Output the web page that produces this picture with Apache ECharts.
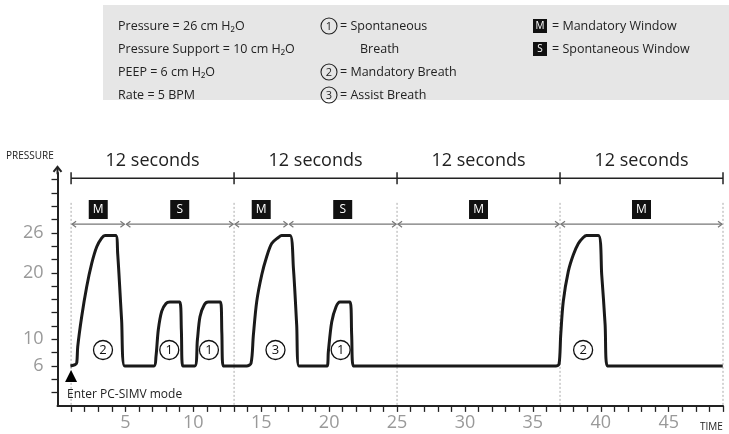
<!DOCTYPE html>
<html><head><meta charset="utf-8">
<script src="https://cdn.jsdelivr.net/npm/echarts@6/dist/echarts.min.js"></script>
<style>html,body{margin:0;padding:0;background:#fff}#c{width:729px;height:434px}</style>
</head><body><div id="c"></div>
<script>
// ---- data ----
const timeS = [0.95,1.3,1.42,1.49,1.78,2.15,2.52,2.89,3.25,3.5,4.28,4.43,4.72,4.95,
  7.1,7.25,7.42,7.67,7.99,8.28,9.0,9.12,9.22,
  10.1,10.3,10.49,10.81,11.1,12.0,12.1,12.2,
  13.93,14.25,14.42,14.67,15.04,15.4,15.77,16.26,16.5,17.12,17.37,17.61,17.78,
  19.85,19.94,20.19,20.51,20.8,21.54,21.66,21.78,
  36.7,36.93,37.05,37.24,37.61,37.98,38.35,38.71,38.95,39.82,40.07,40.32,40.48,
  48.98];
const pressure = [6,6.2,6.5,8.9,13.4,17.9,21.4,23.9,25.2,25.6,25.6,22.9,12.9,6,
  6,7.4,11.4,14.2,15.4,15.6,15.6,11.4,6,
  6,9.9,13.4,15.2,15.6,15.6,11,6,
  6,6.4,10.6,15.7,19.7,22.4,24.4,25.3,25.6,25.6,20.7,12.2,6,
  6,8.1,12.6,14.9,15.6,15.6,10.6,6,
  6,6.3,10.6,15.7,20.2,22.7,24.4,25.3,25.6,25.6,19.7,12.2,6,
  6];
const windowEdges = [1, 13, 25, 37, 49];
const windowText = '12 seconds';
const subWindowStart = [1, 5, 13, 17, 25, 37];
const subWindowEnd = [5, 13, 17, 25, 37, 49];
const subWindowType = ['M', 'S', 'M', 'S', 'M', 'M'];
const breathTime = [3.35, 8.23, 11.15, 16.05, 20.85, 38.7];
const breathType = ['2', '1', '1', '3', '1', '2'];
const yLabelValues = [6, 10, 20, 26];
const yTickValues = [2,4,6,8,10,12,14,16,18,20,22,24,26,28,30,32,34];
const xLabelValues = [5, 10, 15, 20, 25, 30, 35, 40, 45];
const xTickValues = Array.from({length: 49}, (_, i) => i + 1);
const legendSettings = ['Pressure = 26 cm H₂O', 'Pressure Support = 10 cm H₂O', 'PEEP = 6 cm H₂O', 'Rate = 5 BPM'];
const legendBreaths = [['1', '= Spontaneous', 'Breath'], ['2', '= Mandatory Breath'], ['3', '= Assist Breath']];
const legendWindows = [['M', '= Mandatory Window'], ['S', '= Spontaneous Window']];
const yName = 'PRESSURE';
const xName = 'TIME';
const startNote = 'Enter PC-SIMV mode';

// ---- chart ----
const FONT = '"Open Sans", "Noto Sans", sans-serif';
const chart = echarts.init(document.getElementById('c'), null, {renderer: 'canvas'});

function overlay(params, api) {
  const ch = [];
  const P = (t, v) => api.coord([t, v]);
  const yB = P(0, 34.2)[1];
  const xs = windowEdges.map(t => P(t, 0)[0]);
  ch.push({type: 'line', shape: {x1: xs[0], y1: yB, x2: xs[xs.length - 1], y2: yB}, style: {stroke: '#222', lineWidth: 1.5}});
  xs.forEach(x => ch.push({type: 'line', shape: {x1: x, y1: yB - 6, x2: x, y2: yB + 6}, style: {stroke: '#222', lineWidth: 1.5}}));
  for (let i = 0; i < xs.length - 1; i++) {
    ch.push({type: 'text', style: {text: windowText, x: (xs[i] + xs[i + 1]) / 2, y: yB - 17, align: 'center', verticalAlign: 'middle', fontSize: 18, fontFamily: FONT, fill: '#222'}});
  }
  const yTop = P(0, 30.5)[1], y0 = P(0, 0)[1];
  xs.forEach(x => ch.push({type: 'line', shape: {x1: x, y1: yTop, x2: x, y2: y0}, style: {stroke: '#aaa', lineWidth: 1, lineDash: [2, 2]}}));
  const yA = P(0, 27.3)[1];
  const yM = P(0, 29.5)[1];
  for (let i = 0; i < subWindowStart.length; i++) {
    const a = P(subWindowStart[i], 0)[0], b = P(subWindowEnd[i], 0)[0];
    ch.push({type: 'line', shape: {x1: a + 1, y1: yA, x2: b - 1, y2: yA}, style: {stroke: '#777', lineWidth: 1.2}});
    ch.push({type: 'polyline', shape: {points: [[a + 5, yA - 3], [a + 1, yA], [a + 5, yA + 3]]}, style: {stroke: '#777', lineWidth: 1.2, fill: null}});
    ch.push({type: 'polyline', shape: {points: [[b - 5, yA - 3], [b - 1, yA], [b - 5, yA + 3]]}, style: {stroke: '#777', lineWidth: 1.2, fill: null}});
    const cx = (a + b) / 2;
    ch.push({type: 'rect', shape: {x: cx - 9.5, y: yM - 9.5, width: 19, height: 19}, style: {fill: '#111'}});
    ch.push({type: 'text', style: {text: subWindowType[i], x: cx, y: yM + 0.5, align: 'center', verticalAlign: 'middle', fontSize: 12, fontFamily: FONT, fill: '#fff'}});
  }
  for (let i = 0; i < breathTime.length; i++) {
    const p = P(breathTime[i], 8.4);
    ch.push({type: 'circle', shape: {cx: p[0], cy: p[1], r: 9.5}, style: {stroke: '#111', lineWidth: 1.3, fill: null}});
    ch.push({type: 'text', style: {text: breathType[i], x: p[0], y: p[1] + 0.5, align: 'center', verticalAlign: 'middle', fontSize: 13, fontFamily: FONT, fill: '#111'}});
  }
  // start triangle and note
  const tx = P(1, 0)[0], tTip = P(0, 5.4)[1], tBase = P(0, 3.6)[1];
  ch.push({type: 'polygon', shape: {points: [[tx, tTip], [tx - 6, tBase], [tx + 6, tBase]]}, style: {fill: '#000'}});
  const np = P(0.7, 1.75);
  ch.push({type: 'text', style: {text: startNote, x: np[0], y: np[1], align: 'left', verticalAlign: 'middle', fontSize: 12, fontFamily: FONT, fill: '#222'}});
  // y axis arrow
  const ax = P(0, 0)[0], aTop = P(0, 35.9)[1], aBot = P(0, 34.8)[1];
  ch.push({type: 'line', shape: {x1: ax, y1: aBot, x2: ax, y2: aTop}, style: {stroke: '#222', lineWidth: 2}});
  ch.push({type: 'polyline', shape: {points: [[ax - 4, aTop + 5], [ax, aTop], [ax + 4, aTop + 5]]}, style: {stroke: '#222', lineWidth: 2, fill: null}});
  return {type: 'group', children: ch};
}

// legend graphic
const lg = [];
lg.push({type: 'rect', shape: {x: 103, y: 5, width: 626, height: 95}, style: {fill: '#e6e6e6'}});
const rowY = [26, 49, 72, 95];
legendSettings.forEach((s, i) => lg.push({type: 'text', style: {text: s, x: 118, y: rowY[i], verticalAlign: 'middle', fontSize: 12.5, fontFamily: FONT, fill: '#222'}}));
const bRows = [[0, 1], [2], [3]];
legendBreaths.forEach((b, i) => {
  const y = rowY[bRows[i][0]];
  lg.push({type: 'circle', shape: {cx: 329, cy: y, r: 8}, style: {stroke: '#222', lineWidth: 1.1, fill: null}});
  lg.push({type: 'text', style: {text: b[0], x: 329, y: y + 0.5, align: 'center', verticalAlign: 'middle', fontSize: 11, fontFamily: FONT, fill: '#222'}});
  lg.push({type: 'text', style: {text: b[1], x: 340, y: y, verticalAlign: 'middle', fontSize: 12.5, fontFamily: FONT, fill: '#222'}});
  if (b[2]) lg.push({type: 'text', style: {text: b[2], x: 360, y: rowY[bRows[i][1]], verticalAlign: 'middle', fontSize: 12.5, fontFamily: FONT, fill: '#222'}});
});
legendWindows.forEach((w, i) => {
  const y = rowY[i];
  lg.push({type: 'rect', shape: {x: 533, y: y - 7, width: 14, height: 14}, style: {fill: '#111'}});
  lg.push({type: 'text', style: {text: w[0], x: 540, y: y + 0.5, align: 'center', verticalAlign: 'middle', fontSize: 10, fontFamily: FONT, fill: '#fff'}});
  lg.push({type: 'text', style: {text: w[1], x: 552, y: y, verticalAlign: 'middle', fontSize: 12.5, fontFamily: FONT, fill: '#222'}});
});
lg.push({type: 'text', style: {text: yName, x: 6, y: 156, verticalAlign: 'middle', fontSize: 10, fontFamily: FONT, fill: '#222'}});
lg.push({type: 'text', style: {text: xName, x: 700, y: 427, verticalAlign: 'middle', fontSize: 10, fontFamily: FONT, fill: '#222'}});

chart.setOption({
  animation: false,
  backgroundColor: '#fff',
  grid: {left: 57.5, right: 6, top: 172.9, bottom: 28.1, containLabel: false},
  xAxis: {
    type: 'value', min: 0, max: 49,
    axisLine: {show: true, lineStyle: {color: '#222', width: 2}},
    axisTick: {show: true, inside: false, length: 6, customValues: xTickValues, lineStyle: {color: '#222', width: 1.3}},
    axisLabel: {customValues: xLabelValues, margin: 8, fontSize: 18, color: '#999', fontFamily: FONT},
    splitLine: {show: false}
  },
  yAxis: {
    type: 'value', min: 0, max: 35,
    axisLine: {show: true, lineStyle: {color: '#222', width: 2}},
    axisTick: {show: true, inside: false, length: 6, customValues: yTickValues, lineStyle: {color: '#222', width: 1.3}},
    axisLabel: {customValues: yLabelValues, margin: 14, fontSize: 18, color: '#999', fontFamily: FONT},
    splitLine: {show: false}
  },
  graphic: lg,
  series: [
    {type: 'line', data: timeS.map((t, i) => [t, pressure[i]]), showSymbol: false, smooth: 0.3,
     lineStyle: {color: '#1a1a1a', width: 3, join: 'round'}, z: 3},
    {type: 'custom', data: [[0, 0]], renderItem: overlay, clip: false, silent: true, z: 2}
  ]
});
</script></body></html>
